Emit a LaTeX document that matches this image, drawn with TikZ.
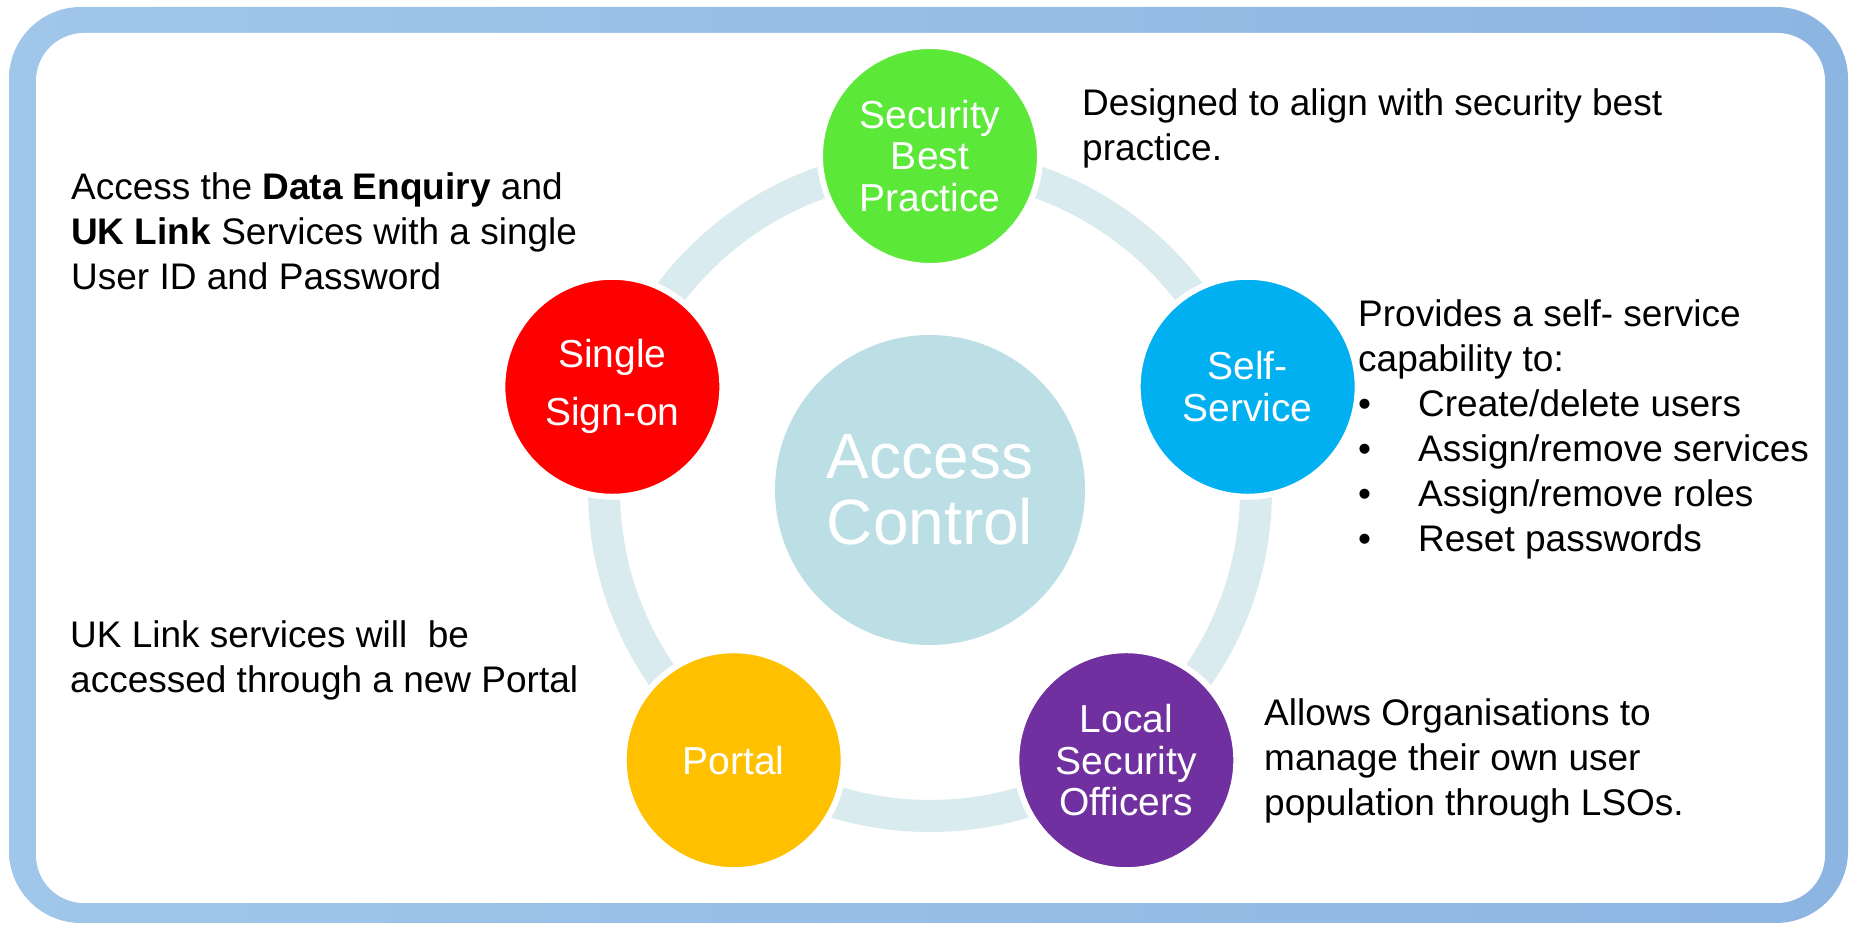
\documentclass[tikz,border=0pt]{standalone}
\usepackage{fontspec}
\setmainfont{Liberation Sans}
\usetikzlibrary{positioning,calc}
\definecolor{frameleft}{RGB}{160,198,233}
\definecolor{frameright}{RGB}{141,181,226}
\definecolor{ringcol}{RGB}{217,235,238}
\definecolor{hubfill}{RGB}{188,223,229}
\definecolor{bestgreen}{RGB}{92,232,56}
\definecolor{selfblue}{RGB}{0,176,240}
\definecolor{lsopurple}{RGB}{112,48,160}
\definecolor{portalgold}{RGB}{255,192,0}
\definecolor{ssored}{RGB}{255,0,0}

\begin{document}
\begin{tikzpicture}[x=1pt, y=1pt,
    topic/.style={circle, draw=white, line width=6pt, minimum size=220pt,
      inner sep=0pt, text=white, align=center,
      font=\fontsize{39}{41.5}\selectfont},
    note/.style={anchor=base west, inner sep=0pt, align=left,
      font=\fontsize{37}{45}\selectfont}]
  \useasboundingbox (0,0) rectangle (1852,925);
  % frame
  \shade[left color=frameleft, right color=frameright, rounded corners=72pt]
    (9,2) rectangle (1848,918);
  \fill[white, rounded corners=48pt] (36,22) rectangle (1825,892);
  % ring
  \coordinate (hub) at (930,435);
  \draw[ringcol, line width=32pt] (hub) circle[radius=326pt];
  \node[circle, fill=hubfill, minimum size=310pt, inner sep=0pt, text=white,
    align=center, font=\fontsize{64}{66}\selectfont] (ac) at (hub) {Access\\Control};
  \node[topic, fill=bestgreen] (sbp) at ($(hub)+(90:334pt)$) {Security\\Best\\Practice};
  \node[topic, fill=selfblue] (self) at ($(hub)+(18:334pt)$) {Self-\\Service};
  \node[topic, fill=lsopurple] (lso) at ($(hub)+(-54:334pt)$) {Local\\Security\\Officers};
  \node[topic, fill=portalgold] (portal) at ($(hub)+(-126:334pt)$) {Portal};
  \node[topic, fill=ssored, font=\fontsize{39}{58}\selectfont] (sso)
    at ($(hub)+(162:334pt)$) {Single\\Sign-on};
  % notes (anchored at the baseline of their last line)
  \node[note] (sbpnote) at (1082,764) {Designed to align with security best\\practice.};
  \node[note] (ssonote) at (71,635)
    {Access the \textbf{Data Enquiry} and\\\textbf{UK Link} Services with a single\\User ID and Password};
  \node[note] (selfnote) at (1358,373) {Provides a self- service\\capability to:\\
    \makebox[60pt][l]{•}Create/delete users\\
    \makebox[60pt][l]{•}Assign/remove services\\
    \makebox[60pt][l]{•}Assign/remove roles\\
    \makebox[60pt][l]{•}Reset passwords};
  \node[note] (portalnote) at (70,232) {UK Link services will\ \ be\\accessed through a new Portal};
  \node[note] (lsonote) at (1264,109)
    {Allows Organisations to\\manage their own user\\population through LSOs.};
\end{tikzpicture}
\end{document}
